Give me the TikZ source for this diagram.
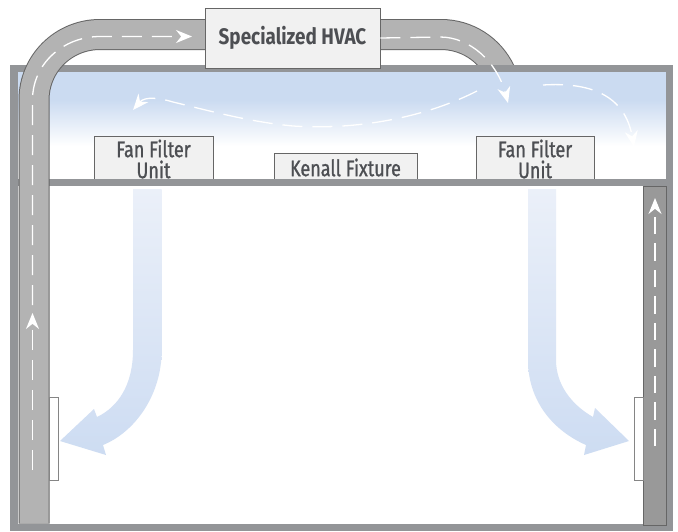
\documentclass[tikz,border=0pt]{standalone}
\usepackage{fontspec}
\setmainfont{Fira Sans}[FakeStretch=0.8,FakeBold=1,BoldFeatures={FakeStretch=0.84,FakeBold=0}]
\usetikzlibrary{arrows.meta}
\definecolor{framegray}{HTML}{939598}
\definecolor{ductgray}{HTML}{B3B3B3}
\definecolor{returngray}{HTML}{999999}
\definecolor{edgegray}{HTML}{666666}
\definecolor{boxgray}{HTML}{F1F1F1}
\definecolor{labelgray}{HTML}{4D4F53}
\definecolor{plenumblue}{HTML}{CBDBF1}
\definecolor{airlight}{HTML}{EBF0F9}
\definecolor{airblue}{HTML}{CDDCF2}
\tikzset{
  unitbox/.style={draw=edgegray,line width=0.8pt,fill=boxgray,text=labelgray,inner sep=0pt,align=center,font=\fontsize{22.5}{21}\selectfont},
  ductedge/.style={draw=edgegray,line width=31pt},
  ductfill/.style={draw=ductgray,line width=29pt},
  flowline/.style={draw=white,line width=1.3pt,dash pattern=on 20pt off 10pt,-{Stealth[length=16pt,width=13pt]}},
  grille/.style={draw=edgegray!80,line width=0.7pt,fill=white},
}
\begin{document}
\begin{tikzpicture}[x=1pt,y=-1pt]
  \useasboundingbox[fill=white] (0,0) rectangle (678,531);

  \draw[ductedge] (380,34.5) -- (441,34.5) .. controls (466.5,34.5) and (489.6,49.2) .. (500.4,72.3) -- (504.6,81.4);
  \draw[ductfill] (380,34.5) -- (441,34.5) .. controls (466.5,34.5) and (489.6,49.2) .. (500.4,72.3) -- (504.6,81.4);

  \fill[plenumblue] (17.5,72) rectangle (666,100);
  \shade[top color=plenumblue,bottom color=white] (17.5,100) rectangle (666,146);

  \node[unitbox,minimum width=119pt,minimum height=46pt] (ffuleft) at (153.5,159) {Fan Filter\\Unit};
  \node[unitbox,minimum width=118pt,minimum height=46pt] (ffuright) at (535,159) {Fan Filter\\Unit};
  \node[unitbox,minimum width=143pt,minimum height=29pt] (kenall) at (345.5,167.5) {Kenall Fixture};

  \draw[framegray,line width=7.5pt] (13.75,68.25) rectangle (669.25,527.25);
  \fill[framegray] (17.5,178.5) rectangle (666,185.7);

  \draw[ductedge] (34,523.5) -- (34,100) .. controls (34,63.5) and (63.5,34.5) .. (100,34.5) -- (210,34.5);
  \draw[ductfill] (34,523.5) -- (34,100) .. controls (34,63.5) and (63.5,34.5) .. (100,34.5) -- (210,34.5);

  \draw[edgegray,line width=0.8pt,fill=returngray] (643,186) rectangle (666,525);

  \node[grille,minimum width=9pt,minimum height=83pt] (grilleleft) at (53.5,438.5) {};
  \node[grille,minimum width=9pt,minimum height=83pt] (grilleright) at (638.5,438.5) {};

  \shade[top color=airlight,bottom color=airblue] (133,189) -- (161.7,189) -- (161.7,350)
    .. controls (161.7,395) and (135,432) .. (103,445) -- (106,455) -- (60,441) -- (94,409) -- (97,417)
    .. controls (118,407) and (133,385) .. (133,350) -- cycle;
  \shade[top color=airlight,bottom color=airblue] (528,189) -- (556,189) -- (556,360)
    .. controls (556,385) and (572,405) .. (593,417) -- (595,408) -- (629,441) -- (584,455) -- (586,445)
    .. controls (552,430) and (528,400) .. (528,360) -- cycle;

  \node[unitbox,minimum width=175pt,minimum height=60pt] (hvac) at (292.5,38) {\bfseries Specialized HVAC};

  \coordinate (returnstart) at (32.5,470);
  \coordinate (returnhead) at (32.5,313);
  \coordinate (riserstart) at (32.5,305);
  \coordinate (supplyhead) at (192,36.5);
  \coordinate (ceilinghead) at (508,103);
  \coordinate (sweepstart) at (477,91);
  \coordinate (sweephead) at (133,110);
  \coordinate (curlstart) at (543,85);
  \coordinate (curlhead) at (634,147);
  \coordinate (wallstart) at (655,446);
  \coordinate (wallhead) at (655,198);

  \draw[flowline] (returnstart) -- (returnhead);
  \draw[flowline] (riserstart) -- (32.5,100) .. controls (32.5,63.5) and (63.5,36.5) .. (100,36.5) -- (supplyhead);
  \draw[flowline] (hvac.east) -- (440,37) .. controls (470,37) and (497,62) .. (ceilinghead);
  \draw[flowline] (sweepstart) .. controls (420,120) and (350,130) .. (293,126)
    .. controls (250,122) and (210,111) .. (173,102) .. controls (160,98) and (145,96) .. (sweephead);
  \draw[flowline] (curlstart) .. controls (590,82) and (625,95) .. (curlhead);
  \draw[flowline,dash pattern=on 17.5pt off 9pt] (wallstart) -- (wallhead);
\end{tikzpicture}
\end{document}
